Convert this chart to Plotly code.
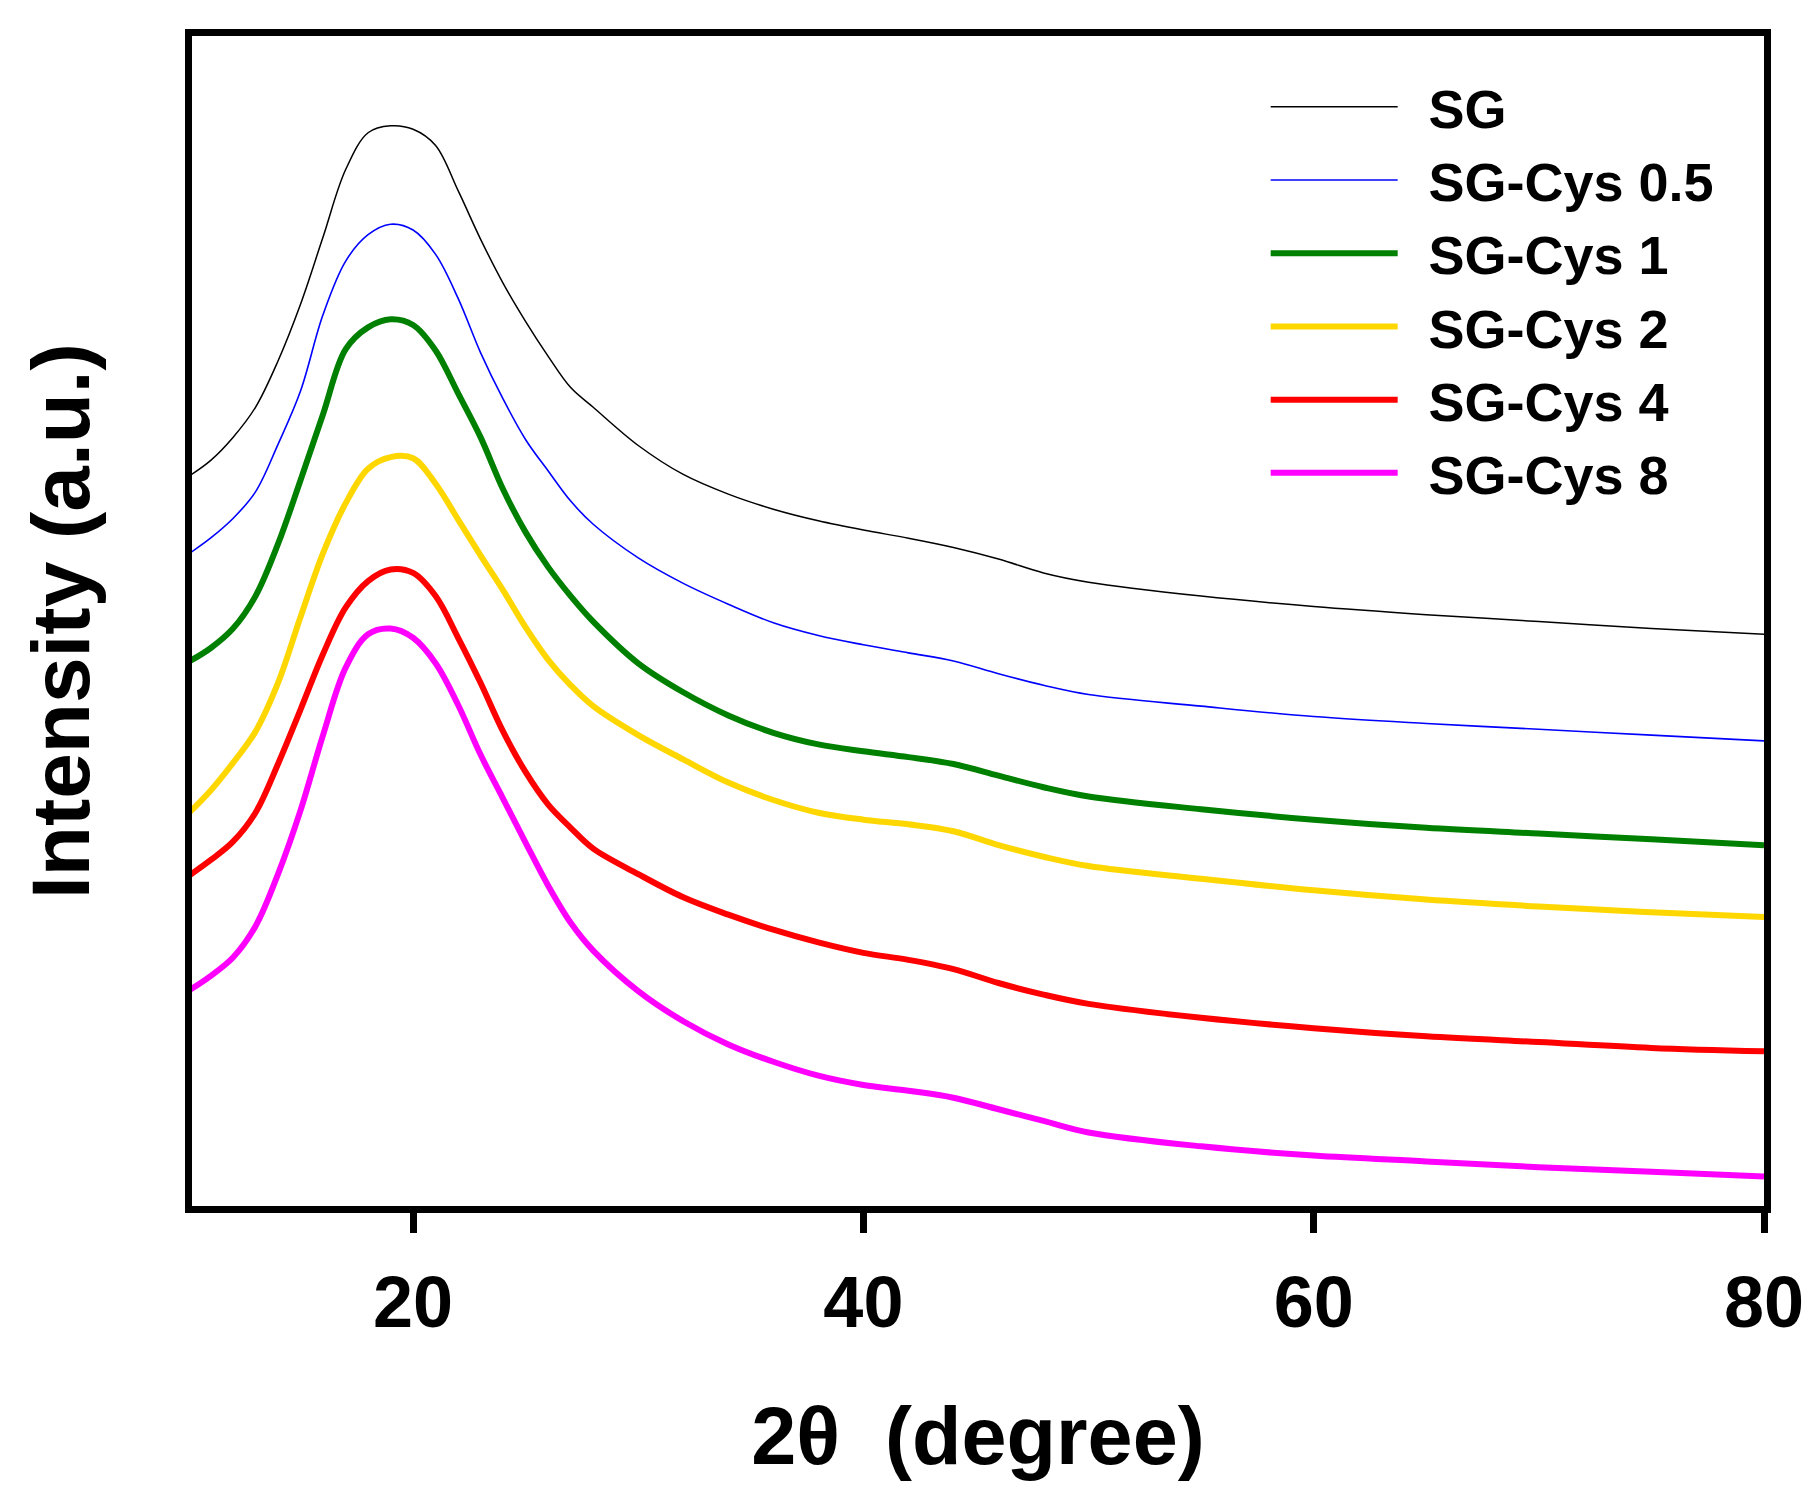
import plotly.graph_objects as go

two_theta = [10, 11, 12, 13, 14, 15, 16, 17, 18, 19, 20, 21, 22, 23, 24, 25, 26, 27, 28,
             30, 32, 34, 36, 38, 40, 42, 44, 46, 48, 50, 55, 60, 65, 70, 75, 80]

sg = [633, 647, 667, 693, 733, 782, 840, 898, 930, 936, 933, 919, 880, 838, 800, 767, 737, 710, 693,
      660, 635, 618, 605, 595, 587, 580, 572, 562, 550, 542, 530, 521, 514, 508, 502, 497]
sg_cys_05 = [566, 580, 597, 620, 661, 707, 773, 819, 842, 851, 846, 825, 787, 740, 700, 665, 638, 612, 592,
             563, 541, 523, 507, 496, 488, 481, 474, 463, 453, 445, 435, 426, 420, 415, 410, 405]
sg_cys_1 = [473, 485, 502, 530, 575, 630, 687, 743, 762, 769, 764, 742, 705, 667, 622, 585, 555, 530, 508,
            472, 447, 427, 412, 402, 396, 391, 385, 375, 365, 357, 346, 337, 330, 325, 320, 315]
sg_cys_2 = [342, 362, 386, 413, 455, 512, 567, 610, 640, 650, 649, 627, 596, 565, 535, 503, 475, 453, 435,
            410, 389, 369, 354, 343, 337, 333, 327, 315, 305, 297, 286, 276, 268, 262, 257, 253]
sg_cys_4 = [288, 302, 318, 343, 385, 432, 480, 520, 543, 553, 550, 530, 494, 455, 413, 378, 350, 330, 312,
            290, 270, 255, 242, 231, 222, 216, 208, 196, 186, 178, 166, 157, 150, 145, 140, 137]
sg_cys_8 = [189, 202, 218, 245, 290, 345, 410, 468, 497, 502, 494, 472, 436, 393, 355, 317, 280, 248, 224,
            189, 163, 143, 128, 116, 108, 103, 97, 87, 77, 67, 55, 47, 42, 37, 33, 29]

names = ["SG", "SG-Cys 0.5", "SG-Cys 1", "SG-Cys 2", "SG-Cys 4", "SG-Cys 8"]
series = [sg, sg_cys_05, sg_cys_1, sg_cys_2, sg_cys_4, sg_cys_8]
colors = ["#000000", "#0000FF", "#008000", "#FFD700", "#FF0000", "#FF00FF"]
widths = [1.5, 1.6, 6, 6, 6, 6]

x_ticks = [20, 40, 60, 80]

FONT = "Liberation Sans, Arial, sans-serif"

fig = go.Figure()
for name, ys, c, w in zip(names, series, colors, widths):
    fig.add_trace(go.Scatter(
        x=two_theta, y=ys, mode="lines", name="\u00a0\u2009" + name,
        line=dict(color=c, width=w, shape="spline", smoothing=1.0),
    ))

fig.update_layout(
    width=1816, height=1499,
    margin=dict(l=192, r=52, t=36, b=293),
    paper_bgcolor="white", plot_bgcolor="white",
    font=dict(family=FONT, color="black"),
    showlegend=True,
    legend=dict(
        x=0.683, y=0.975, xanchor="left", yanchor="top",
        font=dict(family=FONT, size=54, color="black", weight="bold"),
        itemwidth=127, tracegroupgap=0,
        bgcolor="rgba(0,0,0,0)", borderwidth=0,
    ),
)

fig.update_xaxes(
    range=[10.18, 80], tickvals=x_ticks, ticktext=[str(v) for v in x_ticks],
    showgrid=False, zeroline=False,
    showline=True, linecolor="black", linewidth=7, mirror=True,
    ticks="outside", ticklen=20, tickwidth=7, tickcolor="black",
    ticklabelstandoff=8,
    tickfont=dict(family=FONT, size=72, color="black", weight="bold"),
    title=dict(text="2θ  (degree)", font=dict(family=FONT, size=81, color="black", weight="bold"),
               standoff=68),
)
fig.update_yaxes(
    range=[3.5, 1013.5], showticklabels=False, ticks="",
    showgrid=False, zeroline=False,
    showline=True, linecolor="black", linewidth=7, mirror=True,
    title=dict(text="Intensity (a.u.)", font=dict(family=FONT, size=82, color="black", weight="bold"),
               standoff=71),
)

fig.write_html("out.html")
